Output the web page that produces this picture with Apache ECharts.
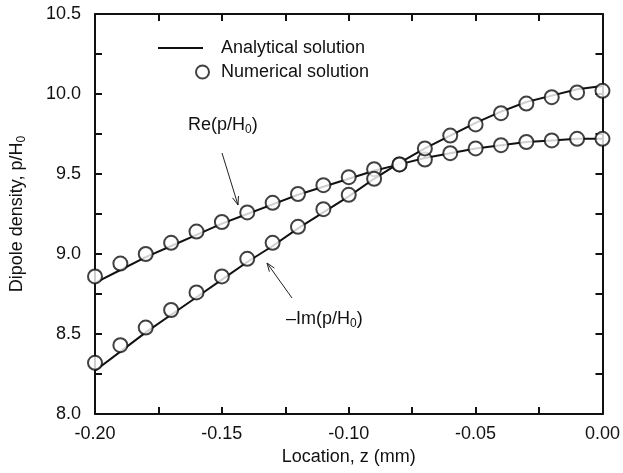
<!DOCTYPE html>
<html>
<head>
<meta charset="utf-8">
<script src="https://cdn.jsdelivr.net/npm/echarts@6/dist/echarts.min.js"></script>
<style>
  html, body { margin: 0; padding: 0; background: #fff; }
  #chart { width: 623px; height: 473px; }
</style>
</head>
<body>
<div id="chart"></div>
<script>
// location z (mm)
var zs = [-0.20, -0.19, -0.18, -0.17, -0.16, -0.15, -0.14, -0.13, -0.12, -0.11, -0.10,
          -0.09, -0.08, -0.07, -0.06, -0.05, -0.04, -0.03, -0.02, -0.01, 0.00];
// analytical solution
var reAnalytical = [8.82, 8.90, 8.98, 9.05, 9.12, 9.19, 9.25, 9.31, 9.37, 9.42, 9.47,
                    9.52, 9.56, 9.60, 9.63, 9.66, 9.68, 9.70, 9.71, 9.72, 9.72];
var imAnalytical = [8.27, 8.39, 8.51, 8.62, 8.73, 8.84, 8.95, 9.05, 9.16, 9.26, 9.36,
                    9.47, 9.57, 9.66, 9.74, 9.82, 9.89, 9.95, 9.99, 10.03, 10.05];
// numerical solution (circles)
var reNumerical = [8.86, 8.94, 9.00, 9.07, 9.14, 9.20, 9.26, 9.32, 9.375, 9.43, 9.48,
                   9.53, 9.56, 9.59, 9.63, 9.66, 9.68, 9.70, 9.71, 9.72, 9.72];
var imNumerical = [8.32, 8.43, 8.54, 8.65, 8.76, 8.86, 8.97, 9.07, 9.17, 9.28, 9.37,
                   9.47, 9.56, 9.66, 9.74, 9.81, 9.88, 9.94, 9.98, 10.01, 10.02];

var FONT = 'Liberation Sans, Arial, Helvetica, sans-serif';

function pairs(ys) {
    return zs.map(function (z, i) { return [z, ys[i]]; });
}

// simple open arrow drawn with polylines
function arrow(x1, y1, x2, y2) {
    var dx = x2 - x1, dy = y2 - y1;
    var len = Math.sqrt(dx * dx + dy * dy);
    var ux = dx / len, uy = dy / len;
    var h = 9, a = 0.35;
    var cos = Math.cos(a), sin = Math.sin(a);
    var l = [x2 - h * (ux * cos - uy * sin), y2 - h * (uy * cos + ux * sin)];
    var r = [x2 - h * (ux * cos + uy * sin), y2 - h * (uy * cos - ux * sin)];
    return [
        { type: 'polyline', shape: { points: [[x1, y1], [x2, y2]] }, style: { stroke: '#222', lineWidth: 1 } },
        { type: 'polyline', shape: { points: [l, [x2, y2], r] }, style: { stroke: '#222', lineWidth: 1, fill: null } }
    ];
}

var subRich = {
    sub: { fontSize: 12, fontFamily: FONT, color: '#111', verticalAlign: 'bottom', padding: [10, 0, 0, 0] }
};

var lineStyle = { color: '#111', width: 2 };
var circleStyle = { color: '#fff', borderColor: '#111', borderWidth: 2 };

// box axes share the same look
function boxAxis(extra) {
    var base = {
        type: 'value',
        axisLine: { onZero: false, lineStyle: { color: '#111', width: 2 } },
        axisTick: { inside: true, length: 7, lineStyle: { color: '#111', width: 2 } },
        minorTick: { show: true, splitNumber: 2, length: 7, lineStyle: { color: '#111', width: 2 } },
        splitLine: { show: false },
        axisLabel: { show: false }
    };
    return Object.assign(base, extra);
}

var option = {
    backgroundColor: '#fff',
    animation: false,
    grid: { left: 90, right: 19, top: 14, bottom: 59 },
    legend: [{
        data: [{ name: 'Analytical solution', icon: 'rect' }],
        left: 153, top: 34,
        itemWidth: 45, itemHeight: 2,
        textStyle: { fontFamily: FONT, fontSize: 18, color: '#111', padding: [0, 0, 0, 13] },
        selectedMode: false
    }, {
        data: ['Numerical solution'],
        left: 190, top: 58,
        itemWidth: 13, itemHeight: 13,
        textStyle: { fontFamily: FONT, fontSize: 18, color: '#111', padding: [0, 0, 0, 7] },
        selectedMode: false
    }],
    xAxis: [boxAxis({
        min: -0.2, max: 0, interval: 0.05,
        name: 'Location, z (mm)',
        nameLocation: 'middle',
        nameGap: 30,
        nameTextStyle: { fontFamily: FONT, fontSize: 18, color: '#111' },
        axisLabel: {
            margin: 11, fontFamily: FONT, fontSize: 18, color: '#111',
            formatter: function (v) { return v.toFixed(2); }
        }
    }), boxAxis({
        position: 'top',
        min: -0.2, max: 0, interval: 0.05
    })],
    yAxis: [boxAxis({
        min: 8, max: 10.5, interval: 0.5,
        name: 'Dipole density, p/H{sub|0}',
        nameLocation: 'middle',
        nameGap: 67,
        nameTextStyle: { fontFamily: FONT, fontSize: 18, color: '#111', rich: subRich },
        axisLabel: {
            margin: 14, fontFamily: FONT, fontSize: 18, color: '#111',
            formatter: function (v) { return v.toFixed(1); }
        }
    }), boxAxis({
        position: 'right',
        min: 8, max: 10.5, interval: 0.5
    })],
    series: [
        { name: 'Analytical solution', type: 'line', symbol: 'none', data: pairs(reAnalytical),
          lineStyle: lineStyle, itemStyle: { color: '#111' } },
        { name: 'Analytical solution', type: 'line', symbol: 'none', data: pairs(imAnalytical),
          lineStyle: lineStyle, itemStyle: { color: '#111' } },
        { name: 'Numerical solution', type: 'scatter', symbol: 'circle', symbolSize: 14,
          data: pairs(reNumerical), itemStyle: circleStyle, z: 3 },
        { name: 'Numerical solution', type: 'scatter', symbol: 'circle', symbolSize: 14,
          data: pairs(imNumerical), itemStyle: circleStyle, z: 3 }
    ],
    graphic: [
        { type: 'text', left: 188, top: 116,
          style: { text: 'Re(p/H{sub|0})', fontFamily: FONT, fontSize: 18, fill: '#111', rich: subRich } },
        { type: 'text', left: 286, top: 310,
          style: { text: '\u2013Im(p/H{sub|0})', fontFamily: FONT, fontSize: 18, fill: '#111', rich: subRich } }
    ].concat(arrow(222, 153, 238, 205), arrow(292, 298, 267, 263))
};

var myChart = echarts.init(document.getElementById('chart'));
myChart.setOption(option);
</script>
</body>
</html>
